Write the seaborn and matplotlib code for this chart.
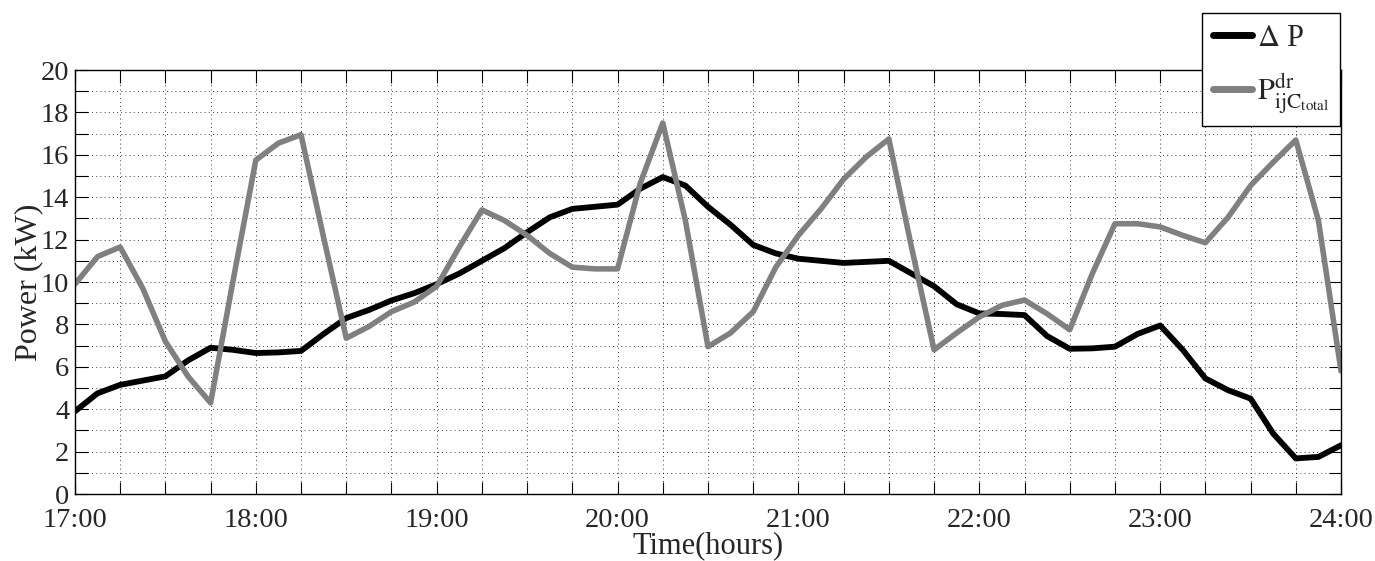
import numpy as np
import pandas as pd
import matplotlib
matplotlib.use('Agg')
import matplotlib.pyplot as plt
from matplotlib.ticker import MultipleLocator, FuncFormatter
import seaborn as sns

# sample times, every 7.5 min from 17:00 to 24:00
hours = np.arange(17.0, 24.0001, 0.125)

delta_p = [3.9, 4.75, 5.15, 5.35, 5.55, 6.3, 6.9, 6.8, 6.65, 6.68,
           6.75, 7.55, 8.3, 8.68, 9.13, 9.47, 9.9, 10.4, 11.0, 11.6,
           12.35, 13.05, 13.45, 13.55, 13.65, 14.4, 14.95, 14.55, 13.55, 12.7,
           11.75, 11.35, 11.1, 11.0, 10.9, 10.95, 11.0, 10.4, 9.8, 8.95,
           8.52, 8.49, 8.44, 7.45, 6.85, 6.87, 6.95, 7.55, 7.95, 6.8,
           5.45, 4.9, 4.5, 2.85, 1.68, 1.75, 2.3]

p_dr_total = [9.9, 11.2, 11.65, 9.7, 7.2, 5.55, 4.3, 10.1, 15.75, 16.55,
              16.95, 12.1, 7.35, 7.9, 8.6, 9.05, 9.8, 11.65, 13.4, 12.9,
              12.2, 11.35, 10.7, 10.62, 10.62, 14.65, 17.5, 12.9, 6.95, 7.6,
              8.6, 10.7, 12.2, 13.45, 14.85, 15.9, 16.75, 11.65, 6.8, 7.6,
              8.35, 8.9, 9.15, 8.5, 7.75, 10.4, 12.75, 12.75, 12.6, 12.2,
              11.85, 13.05, 14.55, 15.65, 16.7, 12.9, 5.8]

label_dp = r'$\Delta$ P'
label_pdr = r'$\mathrm{P^{dr}_{ijC_{total}}}$'

df = pd.DataFrame({'hour': hours, 'dp': delta_p, 'pdr': p_dr_total})

sns.set_style('ticks')
plt.rcParams['font.family'] = ['Liberation Serif', 'DejaVu Serif']
plt.rcParams['mathtext.fontset'] = 'stix'

fig = plt.figure(figsize=(13.75, 5.61), dpi=100)
ax = fig.add_axes([0.0545, 0.1194, 0.9208, 0.7558])

sns.lineplot(data=df, x='hour', y='dp', ax=ax, color='black', linewidth=4.2,
             label=label_dp, solid_joinstyle='round', solid_capstyle='round')
sns.lineplot(data=df, x='hour', y='pdr', ax=ax, color='#808080', linewidth=4.0,
             label=label_pdr, solid_joinstyle='round', solid_capstyle='round')

ax.set_xlim(17, 24)
ax.set_ylim(0, 20)
ax.xaxis.set_major_locator(MultipleLocator(1))
ax.xaxis.set_minor_locator(MultipleLocator(0.25))
ax.yaxis.set_major_locator(MultipleLocator(2))
ax.yaxis.set_minor_locator(MultipleLocator(1))
ax.xaxis.set_major_formatter(FuncFormatter(lambda v, p: f'{int(round(v))}:00'))

ax.grid(which='both', linestyle=(0, (1, 4)), color='black', linewidth=0.6)
ax.tick_params(which='both', direction='in', top=True, right=True,
               length=9, width=0.8, color='black')
ax.tick_params(axis='x', labelsize=20.5, pad=10)
ax.tick_params(axis='y', labelsize=20.5, pad=4)
for s in ax.spines.values():
    s.set_linewidth(1.0)
    s.set_color('black')

ax.set_xlabel('Time(hours)', fontsize=22, labelpad=-1.5)
ax.set_ylabel('Power (kW)', fontsize=23, labelpad=-2)

leg = ax.legend(loc='upper right', bbox_to_anchor=(0.9745, 0.976),
                bbox_transform=fig.transFigure, borderaxespad=0,
                fontsize=22, handlelength=1.3, handletextpad=0.15,
                fancybox=False, framealpha=1, edgecolor='black',
                borderpad=0.35, labelspacing=0.6)
leg.get_frame().set_linewidth(1.0)
for line in leg.get_lines():
    line.set_linewidth(5)

plt.savefig('out.png', dpi=100)
plt.close()
